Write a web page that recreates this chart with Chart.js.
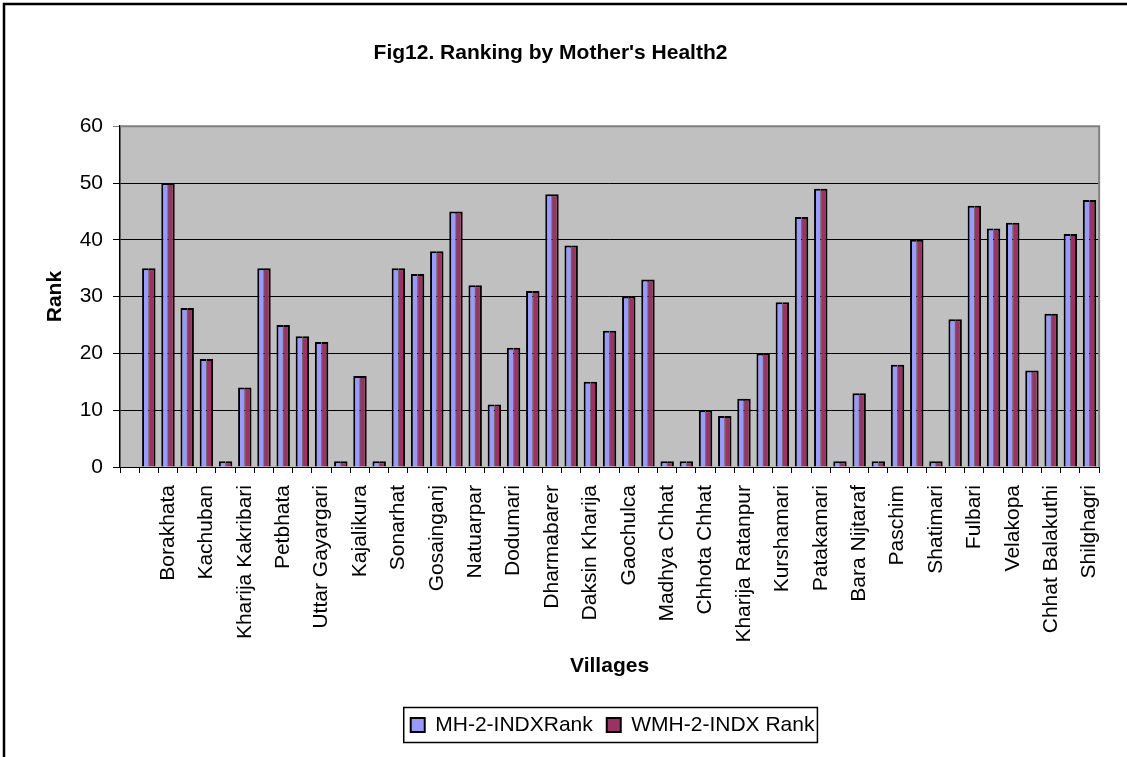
<!DOCTYPE html>
<html>
<head>
<meta charset="utf-8">
<script src="https://cdn.jsdelivr.net/npm/chart.js@4.4.1/dist/chart.umd.min.js"></script>
<style>
  body { margin: 0; background: #fff; }
  canvas { display: block; }
</style>
</head>
<body>
<canvas id="RankChart" width="1127" height="757"></canvas>
<script>
// Fig12 - ranking by mother's health

// first category is empty; only every second village name is printed on the axis
const villages = [
  '', '', 'Borakhata', '', 'Kachuban', '', 'Kharija Kakribari', '', 'Petbhata',
  '', 'Uttar Gayargari', '', 'Kajalikura', '', 'Sonarhat', '', 'Gosainganj',
  '', 'Natuarpar', '', 'Dodumari', '', 'Dharmabarer', '', 'Daksin Kharija',
  '', 'Gaochulca', '', 'Madhya Chhat', '', 'Chhota Chhat', '', 'Kharija Ratanpur',
  '', 'Kurshamari', '', 'Patakamari', '', 'Bara Nijtaraf', '', 'Paschim',
  '', 'Shatimari', '', 'Fulbari', '', 'Velakopa', '', 'Chhat Balakuthi',
  '', 'Shilghagri'
];

const mhRank = [
  null,
  35, 50, 28, 19, 1, 14, 35, 25, 23, 22,
  1, 16, 1, 35, 34, 38, 45, 32, 11, 21,
  31, 48, 39, 15, 24, 30, 33, 1, 1, 10,
  9, 12, 20, 29, 44, 49, 1, 13, 1, 18,
  40, 1, 26, 46, 42, 43, 17, 27, 41, 47
];

const wmhRank = [
  null,
  35, 50, 28, 19, 1, 14, 35, 25, 23, 22,
  1, 16, 1, 35, 34, 38, 45, 32, 11, 21,
  31, 48, 39, 15, 24, 30, 33, 1, 1, 10,
  9, 12, 20, 29, 44, 49, 1, 13, 1, 18,
  40, 1, 26, 46, 42, 43, 17, 27, 41, 47
];

const rankMin = 0;
const rankMax = 60;
const rankStep = 10;

const FONT = 'Liberation Sans, Arial, sans-serif';

const dataRank = {
  labels: villages,
  datasets: [{
    label: 'MH-2-INDXRank',
    backgroundColor: '#9999FF',
    borderColor: '#000',
    borderWidth: { left: 2, top: 2, right: 0.5, bottom: 0 },
    data: mhRank
  }, {
    label: 'WMH-2-INDX Rank',
    backgroundColor: '#993366',
    borderColor: '#000',
    borderWidth: { left: 0.5, top: 2, right: 2, bottom: 0 },
    data: wmhRank
  }]
};

// grey plot area, frame and the boxed legend
const excelLook = {
  id: 'excelLook',
  afterLayout(chart) {
    const lg = chart.legend;
    const ca = chart.chartArea;
    const shift = (ca.left + ca.right) / 2 - (lg.left + lg.right) / 2 + 3;
    lg.left += shift;
    lg.right += shift;
  },
  beforeDraw(chart) {
    const ctx = chart.ctx;
    const ca = chart.chartArea;
    ctx.save();
    ctx.fillStyle = '#fff';
    ctx.fillRect(0, 0, chart.width, chart.height);
    ctx.fillStyle = '#C0C0C0';
    ctx.fillRect(ca.left, ca.top, ca.right - ca.left, ca.bottom - ca.top);
    ctx.strokeStyle = '#000';
    ctx.lineWidth = 2.5;
    ctx.strokeRect(4, 4, chart.width + 20, chart.height + 20);
    ctx.restore();
  },
  afterDraw(chart) {
    const ctx = chart.ctx;
    const ca = chart.chartArea;
    ctx.save();
    ctx.strokeStyle = '#808080';
    ctx.lineWidth = 2;
    ctx.beginPath();
    ctx.moveTo(ca.left, ca.top);
    ctx.lineTo(ca.right, ca.top);
    ctx.lineTo(ca.right, ca.bottom);
    ctx.stroke();
    const hb = chart.legend.legendHitBoxes;
    if (hb && hb.length) {
      const last = hb[hb.length - 1];
      const x0 = hb[0].left - 7;
      const x1 = last.left + last.width + 3;
      const y0 = hb[0].top - 7;
      const y1 = hb[0].top + hb[0].height + 7;
      ctx.strokeStyle = '#000';
      ctx.lineWidth = 1.5;
      ctx.strokeRect(x0, y0, x1 - x0, y1 - y0);
    }
    ctx.restore();
  }
};

const optRank = {
  responsive: false,
  maintainAspectRatio: false,
  animation: false,
  layout: { padding: { top: 0, left: 0, right: 26, bottom: 11.5 } },
  datasets: {
    bar: { categoryPercentage: 0.7, barPercentage: 1.0 }
  },
  plugins: {
    title: {
      display: true,
      text: "Fig12. Ranking by Mother's Health2",
      color: '#000',
      font: { family: FONT, size: 21, weight: 'bold' },
      padding: { top: 41, bottom: 60 }
    },
    legend: {
      position: 'bottom',
      labels: {
        color: '#000',
        font: { family: FONT, size: 21 },
        boxWidth: 14,
        boxHeight: 14,
        padding: 14,
        generateLabels(chart) {
          return Chart.defaults.plugins.legend.labels.generateLabels(chart).map(l => {
            l.lineWidth = 2;
            l.strokeStyle = '#000';
            return l;
          });
        }
      }
    },
    tooltip: { enabled: false }
  },
  scales: {
    x: {
      afterFit(scale) { scale.height = 233.5; },
      grid: {
        offset: true,
        drawOnChartArea: false,
        color: '#000',
        tickLength: 6
      },
      border: { color: '#000', width: 1 },
      ticks: {
        autoSkip: false,
        minRotation: 90,
        maxRotation: 90,
        padding: 12,
        color: '#000',
        font: { family: FONT, size: 21 }
      },
      title: {
        display: true,
        text: 'Villages',
        color: '#000',
        font: { family: FONT, size: 21, weight: 'bold' },
        padding: { top: 0, bottom: 22 }
      }
    },
    y: {
      min: rankMin,
      max: rankMax,
      afterFit(scale) { scale.width = 120; },
      grid: {
        color: (c) => (c.tick && c.tick.value === rankMax ? '#808080' : '#000'),
        lineWidth: 1,
        tickLength: 7
      },
      border: { color: '#000', width: 1.5 },
      ticks: {
        stepSize: rankStep,
        padding: 10,
        color: '#000',
        font: { family: FONT, size: 21 }
      },
      title: {
        display: true,
        text: 'Rank',
        color: '#000',
        font: { family: FONT, size: 21, weight: 'bold' },
        padding: { top: 43, bottom: 0 }
      }
    }
  }
};

const configRank = {
  type: 'bar',
  data: dataRank,
  options: optRank,
  plugins: [excelLook]
};

const Rank_Chart = new Chart(
  document.getElementById('RankChart'),
  configRank
);
</script>
</body>
</html>
